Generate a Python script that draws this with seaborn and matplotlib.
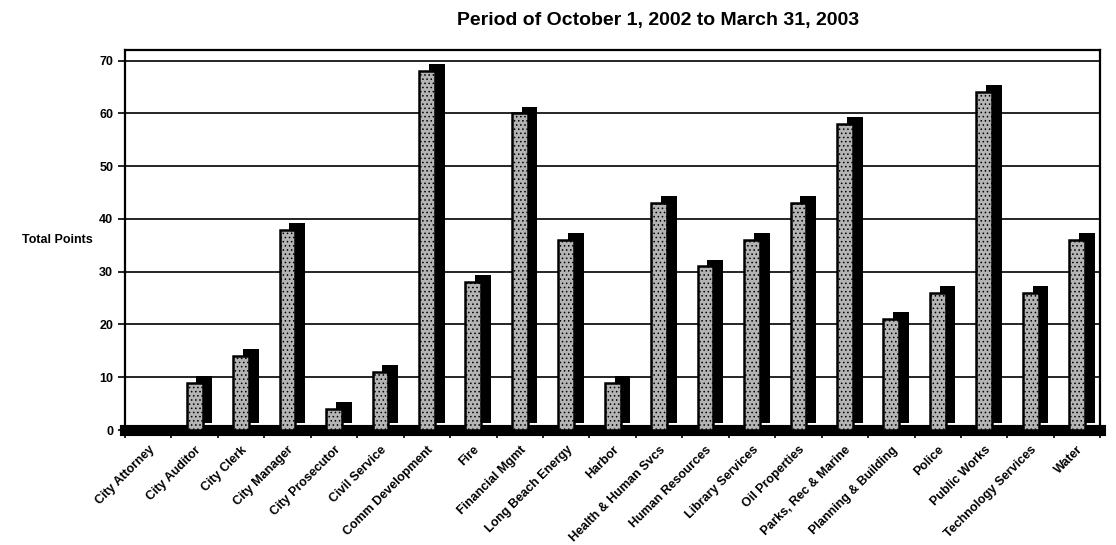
import numpy as np
import pandas as pd
import matplotlib
matplotlib.use("Agg")
import matplotlib.pyplot as plt
import matplotlib.patheffects as pe
import seaborn as sns

# data
departments = [
    "City Attorney", "City Auditor", "City Clerk", "City Manager",
    "City Prosecutor", "Civil Service", "Comm Development", "Fire",
    "Financial Mgmt", "Long Beach Energy", "Harbor", "Health & Human Svcs",
    "Human Resources", "Library Services", "Oil Properties",
    "Parks, Rec & Marine", "Planning & Building", "Police", "Public Works",
    "Technology Services", "Water",
]
total_points = [0, 9, 14, 38, 4, 11, 68, 28, 60, 36, 9, 43, 31, 36, 43,
                58, 21, 26, 64, 26, 36]
y_ticks = [0, 10, 20, 30, 40, 50, 60, 70]

df = pd.DataFrame({"department": departments, "points": total_points})

sns.set_theme(style="white")
plt.rcParams["font.family"] = ["Liberation Sans", "DejaVu Sans"]
plt.rcParams["text.color"] = "black"
plt.rcParams["axes.labelcolor"] = "black"
plt.rcParams["xtick.color"] = "black"
plt.rcParams["ytick.color"] = "black"
plt.rcParams["hatch.color"] = "black"
plt.rcParams["hatch.linewidth"] = 0.6

fig = plt.figure(figsize=(11.16, 5.45), dpi=100)
ax = fig.add_axes([0.112, 0.211, 0.874, 0.697])

sns.barplot(data=df, x="department", y="points", color="#b4b4b4",
            width=0.34, edgecolor="black", linewidth=1.8, ax=ax,
            saturation=1)

# fake 3D extrusion: black shadow offset up/right
for p in ax.patches:
    p.set_hatch("....")
    p.set_path_effects([
        pe.SimplePatchShadow(offset=(7, 5), shadow_rgbFace="black", alpha=1),
        pe.Normal(),
    ])
    p.set_zorder(3)

ax.set_ylim(0, 72)
ax.set_xlim(-0.5, len(departments) - 0.5)
ax.set_yticks(y_ticks)
ax.set_yticklabels([str(v) for v in y_ticks], fontsize=9, fontweight="bold")
ax.yaxis.grid(True, color="black", linewidth=1.2)
ax.set_axisbelow(True)

# category labels at centres, tick marks at boundaries
ax.set_xticks(range(len(departments)))
ax.set_xticklabels(departments, rotation=45, ha="right",
                   rotation_mode="anchor", fontsize=9, fontweight="bold")
ax.tick_params(axis="x", which="major", length=0, pad=10)
ax.set_xticks(np.arange(len(departments) + 1) - 0.5, minor=True)
ax.tick_params(axis="x", which="minor", length=6, width=1.2, color="black",
               direction="out", bottom=True)
ax.tick_params(axis="y", length=5, width=1.2, color="black", left=True)

for side in ["top", "right", "left"]:
    ax.spines[side].set_color("black")
    ax.spines[side].set_linewidth(1.6)
ax.spines["bottom"].set_color("black")
ax.spines["bottom"].set_linewidth(8)
ax.spines["bottom"].set_zorder(2)

ax.set_xlabel("")
ax.set_ylabel("Total Points", rotation=0, fontsize=9, fontweight="bold",
              labelpad=30, va="center")

fig.text(0.59, 0.963, "Period of October 1, 2002 to March 31, 2003",
         ha="center", va="center", fontsize=14, fontweight="bold")

fig.savefig("out.png", dpi=100)
